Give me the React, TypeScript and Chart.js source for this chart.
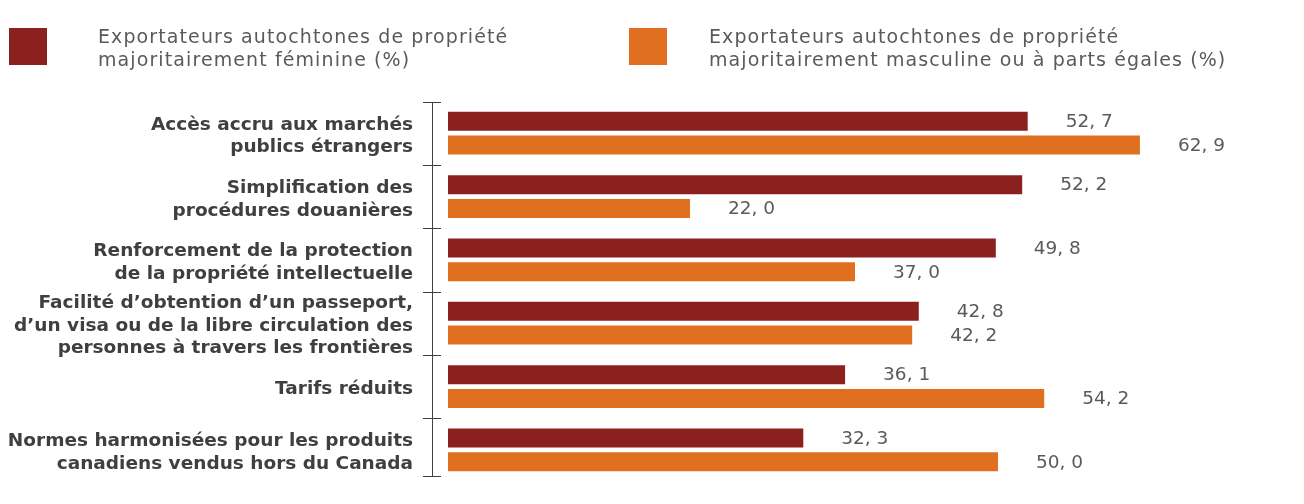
import React, { useEffect, useRef } from "react";
import { Chart, registerables } from "chart.js";

Chart.register(...registerables);

const categories: string[][] = [
  ["Accès accru aux marchés", "publics étrangers"],
  ["Simplification des", "procédures douanières"],
  ["Renforcement de la protection", "de la propriété intellectuelle"],
  ["Facilité d’obtention d’un passeport,", "d’un visa ou de la libre circulation des", "personnes à travers les frontières"],
  ["Tarifs réduits"],
  ["Normes harmonisées pour les produits", "canadiens vendus hors du Canada"],
];

const femaleValues: number[] = [52.7, 52.2, 49.8, 42.8, 36.1, 32.3];
const maleValues: number[] = [62.9, 22.0, 37.0, 42.2, 54.2, 50.0];

const legendFemale: string[] = ["Exportateurs autochtones de propriété", "majoritairement féminine (%)"];
const legendMale: string[] = ["Exportateurs autochtones de propriété", "majoritairement masculine ou à parts égales (%)"];

const COLOR_F = "#8B211E";
const COLOR_M = "#E06F20";
const TEXT_GRAY = "#5a5a5a";
const LABEL_DARK = "#3f3f3f";

const fmt = (v: number) => v.toFixed(1).replace(".", ", ");

const legendPlugin = {
  id: "customLegend",
  afterDraw(chart: any) {
    const ctx = chart.ctx;
    const items = [
      { lines: legendFemale, color: COLOR_F, sx: 9, tx: 98 },
      { lines: legendMale, color: COLOR_M, sx: 629, tx: 709 },
    ];
    ctx.save();
    items.forEach((it) => {
      ctx.fillStyle = it.color;
      ctx.fillRect(it.sx, 28, 38, 37);
      ctx.fillStyle = TEXT_GRAY;
      ctx.font = "19px 'DejaVu Sans'";
      try {
        (ctx as any).letterSpacing = "1.1px";
      } catch (e) {}
      ctx.textAlign = "left";
      ctx.textBaseline = "alphabetic";
      it.lines.forEach((l: string, i: number) => {
        ctx.fillText(l, it.tx, 43 + i * 22.5);
      });
    });
    ctx.restore();
  },
};

const axisPlugin = {
  id: "customAxis",
  afterDraw(chart: any) {
    const ctx = chart.ctx;
    const area = chart.chartArea;
    const y = chart.scales.y;
    const ax = area.left - 16;
    const n = chart.data.labels.length;
    const half = (y.getPixelForValue(1) - y.getPixelForValue(0)) / 2;
    const bounds: number[] = [];
    for (let i = 0; i <= n; i++) {
      bounds.push(i < n ? y.getPixelForValue(i) - half : y.getPixelForValue(n - 1) + half - 6);
    }
    ctx.save();
    ctx.strokeStyle = LABEL_DARK;
    ctx.lineWidth = 1;
    ctx.beginPath();
    ctx.moveTo(Math.round(ax) + 0.5, Math.round(bounds[0]) + 0.5);
    ctx.lineTo(Math.round(ax) + 0.5, Math.round(bounds[n]) + 0.5);
    bounds.forEach((b) => {
      ctx.moveTo(ax - 9, Math.round(b) + 0.5);
      ctx.lineTo(ax + 9, Math.round(b) + 0.5);
    });
    ctx.stroke();
    ctx.restore();
  },
};

const valueLabelPlugin = {
  id: "valueLabels",
  afterDatasetsDraw(chart: any) {
    const ctx = chart.ctx;
    ctx.save();
    ctx.font = "18.5px 'DejaVu Sans'";
    ctx.fillStyle = TEXT_GRAY;
    ctx.textAlign = "left";
    ctx.textBaseline = "middle";
    chart.data.datasets.forEach((ds: any, di: number) => {
      const meta = chart.getDatasetMeta(di);
      meta.data.forEach((bar: any, i: number) => {
        ctx.fillText(fmt(ds.data[i]), bar.x + 38, bar.y + 1);
      });
    });
    ctx.restore();
  },
};

export default function App() {
  const ref = useRef<HTMLCanvasElement | null>(null);
  useEffect(() => {
    if (!ref.current) return;
    const chart = new Chart(ref.current, {
      type: "bar",
      data: {
        labels: categories,
        datasets: [
          {
            label: legendFemale.join(" "),
            data: femaleValues,
            backgroundColor: COLOR_F,
            categoryPercentage: 0.75,
            barPercentage: 0.8,
          },
          {
            label: legendMale.join(" "),
            data: maleValues,
            backgroundColor: COLOR_M,
            categoryPercentage: 0.75,
            barPercentage: 0.8,
          },
        ],
      },
      options: {
        indexAxis: "y",
        responsive: false,
        animation: false,
        layout: { padding: { top: 101.5, bottom: 18.5, right: 86, left: 0 } },
        plugins: {
          legend: { display: false },
          tooltip: { enabled: false },
        },
        scales: {
          x: { display: false, min: 0, max: 70 },
          y: {
            grid: {
              display: true,
              drawOnChartArea: false,
              drawTicks: true,
              tickLength: 35,
              tickColor: "rgba(0,0,0,0)",
            },
            border: { display: false },
            afterFit: (scale: any) => {
              scale.width = 448;
            },
            ticks: {
              autoSkip: false,
              padding: 0,
              labelOffset: 3,
              color: LABEL_DARK,
              font: { family: "'DejaVu Sans'", size: 18.5, weight: "bold", lineHeight: 1.216 },
            },
          },
        },
      },
      plugins: [legendPlugin, axisPlugin, valueLabelPlugin],
    });
    return () => chart.destroy();
  }, []);
  return (
    <div style={{ position: "absolute", left: 0, top: 0, width: 1304, height: 504, background: "#fff" }}>
      <canvas ref={ref} width={1304} height={504} />
    </div>
  );
}
